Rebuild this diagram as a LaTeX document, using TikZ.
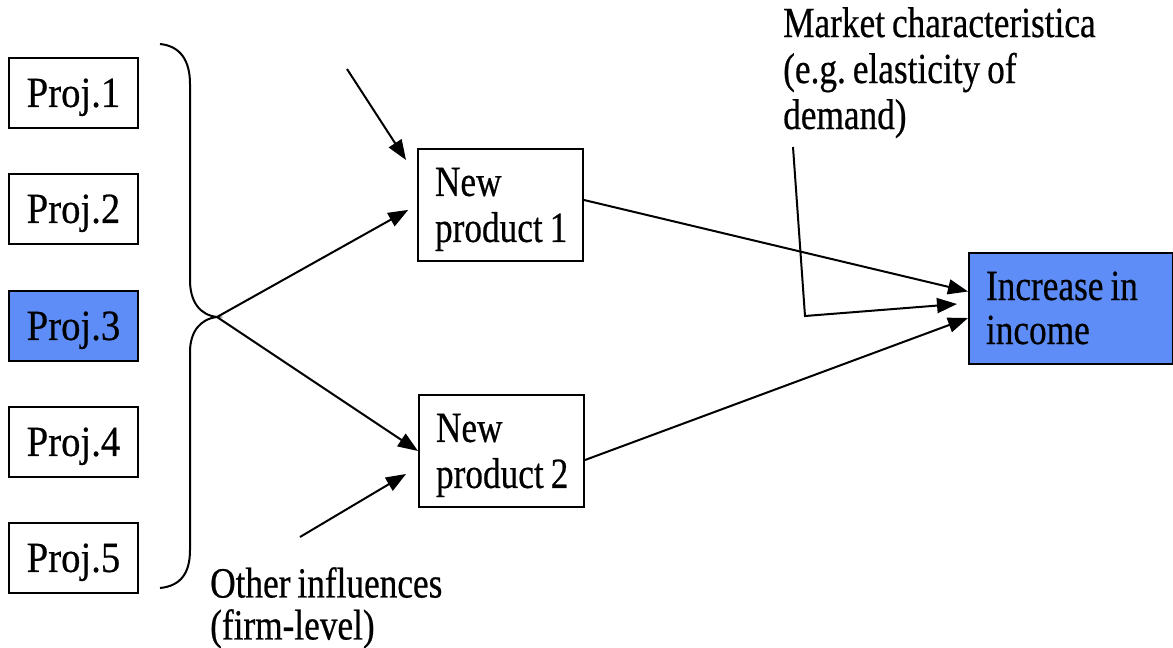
\documentclass[tikz,border=0pt]{standalone}
\usepackage{fontspec}
\setmainfont{Liberation Serif}[FakeStretch=0.82,FakeBold=0.5]
\usetikzlibrary{arrows.meta,calc}
\definecolor{boxblue}{RGB}{95,141,247}
\newcommand{\firstst}{\rule{0pt}{37pt}}
\newcommand{\tightsp}{\frenchspacing\spaceskip=7pt plus 1pt minus 1pt\xspaceskip=7pt plus 1pt minus 1pt\relax}
\newcommand{\diafont}[1]{\fontsize{43}{#1}\selectfont\tightsp}
\newcommand{\padstart}[1]{\leftskip=17pt\rightskip=0pt plus 1fil\parindent=0pt\parfillskip=0pt plus 1fil\tightsp\rule{0pt}{#1}}
\begin{document}
\begin{tikzpicture}[x=1pt,y=1pt,
  every node/.style={font=\diafont{46}},
  box/.style={draw=black, line width=2pt, inner sep=0pt, anchor=north west},
  projbox/.style={box, minimum width=129pt, minimum height=70pt,
    font=\diafont{46}\addfontfeatures{FakeStretch=0.9},
    execute at begin node=\firstst},
  prodbox/.style={box, minimum width=165pt, minimum height=112pt, text width=165pt,
    execute at begin node={\padstart{37pt}}},
  conn/.style={line width=2pt, -{Triangle[length=20pt,width=15pt]}},
  lbl/.style={align=left, anchor=north west, inner sep=0pt}]
\useasboundingbox (0,0) rectangle (1173,-648);

% project boxes
\node[projbox] (p1) at (8,-57)  {Proj.1};
\node[projbox] (p2) at (8,-173) {Proj.2};
\node[projbox, fill=boxblue] (p3) at (8,-290) {Proj.3};
\node[projbox] (p4) at (8,-406) {Proj.4};
\node[projbox] (p5) at (8,-522) {Proj.5};

% brace
\coordinate (tip) at (217,-317);
\draw[line width=2pt]
  (160,-44) .. controls (180,-46) and (190,-60) .. (190,-84)
  -- (190,-280) .. controls (190,-302) and (200,-315) .. (tip)
  .. controls (200,-319) and (190,-332) .. (190,-352)
  -- (190,-550) .. controls (190,-574) and (180,-586) .. (160,-588);

% product boxes
\node[prodbox] (np1) at (417,-148) {New\\product~1};
\node[prodbox] (np2) at (418,-394) {New\\product~2};

% result box
\node[box, fill=boxblue, minimum width=204pt, minimum height=111pt,
  text width=204pt, font=\diafont{44},
  execute at begin node={\padstart{33pt}},
  execute at end node={\rule[-6pt]{0pt}{6pt}}] (inc) at (968,-252) {Increase~in\\income};

% labels
\node[lbl] (mkt) at (783,-7) {Market characteristica\\(e.g. elasticity of\\demand)};
\node[lbl, font=\diafont{42}] (oth) at (210,-567) {Other influences\\(firm-level)};

% free ends
\coordinate (t1) at (347,-69);
\coordinate (o1) at (300,-537);
\coordinate (m1) at (793,-147);
\coordinate (mk) at (805,-316);

% connectors
\draw[conn] (t1) -- ($(np1.north west)+(-11,-12)$);
\draw[conn, shorten >=10pt] (tip) -- (np1.west);
\draw[conn] (tip) -- (np2.west);
\draw[conn] (o1) -- ($(np2.south west)+(-12,34)$);
\draw[conn] ($(np1.east)+(0,5)$) -- ($(inc.west)+(0,17)$);
\draw[conn] ($(np2.east)+(0,-9)$) -- ($(inc.west)+(0,-9.5)$);
\draw[conn] (m1) -- (mk) -- ($(inc.west)+(-11,4.5)$);
\end{tikzpicture}
\end{document}
